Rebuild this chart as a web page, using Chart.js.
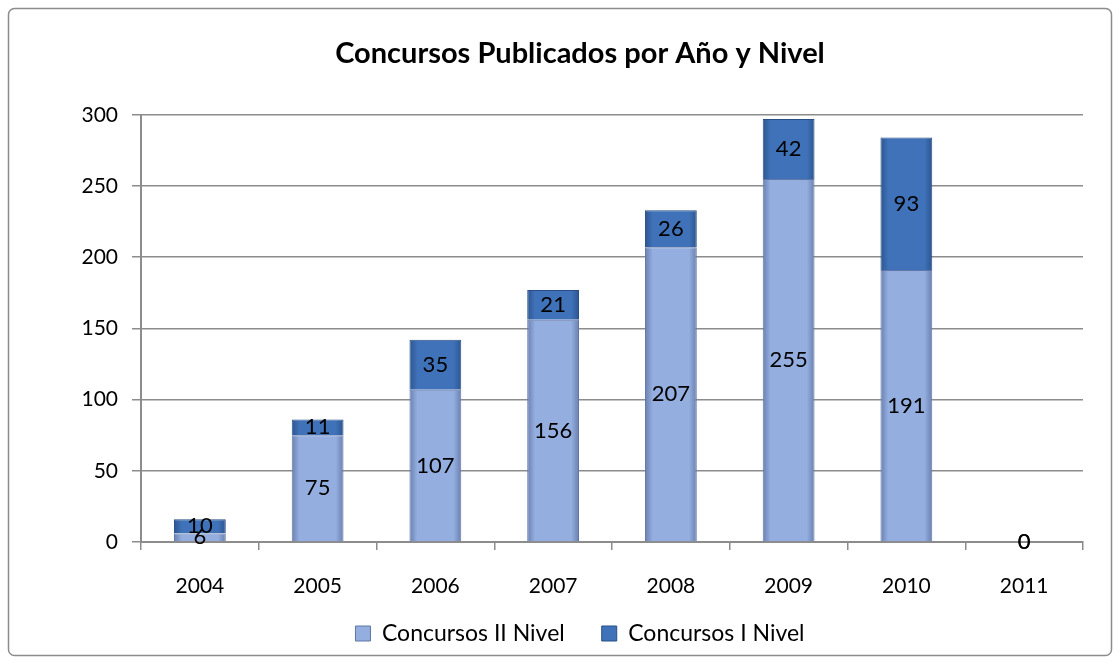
<!DOCTYPE html>
<html>
<head>
<meta charset="utf-8">
<script src="https://cdn.jsdelivr.net/npm/chart.js@4"></script>
<style>
  html, body { margin: 0; padding: 0; background: #fff; }
  #wrap { width: 1120px; height: 664px; position: relative; }
</style>
</head>
<body>
<div id="wrap"><canvas id="chart" width="1120" height="664"></canvas></div>
<script>
// Chart data
const years = ['2004', '2005', '2006', '2007', '2008', '2009', '2010', '2011'];
const nivelII = [6, 75, 107, 156, 207, 255, 191, 0];
const nivelI = [10, 11, 35, 21, 26, 42, 93, 0];
const yTicks = [0, 50, 100, 150, 200, 250, 300];

const fontFamily = 'Lato, "Open Sans", sans-serif';
const barPct = 0.44;

const colorsII = { edge: '#6a80b0', mid: '#93aedf', border: '#5f76a6' };
const colorsI = { edge: '#2c5590', mid: '#3f72b8', border: '#294e85' };

// Horizontal gradient for each bar, darker on the edges
function barGradient(ctx, c) {
  const chart = ctx.chart;
  const xs = chart.scales.x;
  if (!xs || ctx.dataIndex === undefined || !xs.width) return c.mid;
  const cx = xs.getPixelForValue(ctx.dataIndex);
  const half = (xs.width / years.length) * barPct / 2;
  const g = chart.ctx.createLinearGradient(cx - half, 0, cx + half, 0);
  g.addColorStop(0, c.edge);
  g.addColorStop(0.15, c.mid);
  g.addColorStop(0.85, c.mid);
  g.addColorStop(1, c.edge);
  return g;
}

// Value labels in the middle of each segment
const valueLabels = {
  id: 'valueLabels',
  afterDatasetsDraw(chart) {
    const ctx = chart.ctx;
    ctx.save();
    ctx.font = '22px ' + fontFamily;
    ctx.fillStyle = '#000';
    ctx.textAlign = 'center';
    ctx.textBaseline = 'middle';
    chart.data.datasets.forEach((ds, i) => {
      chart.getDatasetMeta(i).data.forEach((bar, j) => {
        const y = (bar.y + bar.base) / 2;
        ctx.fillText(String(ds.data[j]), bar.x, y);
      });
    });
    ctx.restore();
  }
};

// Outer frame of the chart
const frame = {
  id: 'frame',
  beforeDraw(chart) {
    const ctx = chart.ctx;
    ctx.save();
    ctx.strokeStyle = '#8c8c8c';
    ctx.lineWidth = 1.5;
    ctx.beginPath();
    ctx.roundRect(8.5, 8.5, 1103, 647, 6);
    ctx.stroke();
    ctx.restore();
  }
};

new Chart(document.getElementById('chart'), {
  type: 'bar',
  data: {
    labels: years,
    datasets: [
      {
        label: 'Concursos II Nivel',
        data: nivelII,
        backgroundColor: (c) => barGradient(c, colorsII),
        borderColor: colorsII.border,
        borderWidth: 1,
      },
      {
        label: 'Concursos I Nivel',
        data: nivelI,
        backgroundColor: (c) => barGradient(c, colorsI),
        borderColor: colorsI.border,
        borderWidth: 1,
      },
    ],
  },
  options: {
    responsive: false,
    animation: false,
    layout: { padding: { left: 77, right: 37, top: 16, bottom: 9 } },
    datasets: {
      bar: { categoryPercentage: 1, barPercentage: barPct },
    },
    scales: {
      x: {
        stacked: true,
        afterFit(scale) { scale.height = 66; },
        grid: {
          display: true,
          drawOnChartArea: false,
          drawTicks: true,
          tickLength: 8,
          color: '#8c8c8c',
          lineWidth: 1.5,
        },
        border: { color: '#8c8c8c', width: 2 },
        ticks: { color: '#000', font: { size: 21, family: fontFamily }, padding: 24 },
      },
      y: {
        stacked: true,
        min: 0,
        max: 300,
        afterBuildTicks(scale) {
          scale.ticks = yTicks.map((v) => ({ value: v }));
        },
        afterFit(scale) { scale.width = 64; },
        grid: { color: '#8c8c8c', lineWidth: 1.5, tickLength: 9 },
        border: { color: '#8c8c8c', width: 2 },
        ticks: { color: '#000', font: { size: 21, family: fontFamily }, padding: 14 },
      },
    },
    plugins: {
      title: {
        display: true,
        text: 'Concursos Publicados por Año y Nivel',
        color: '#000',
        font: { size: 29, weight: 'bold', family: fontFamily },
        padding: { top: 20, bottom: 44 },
      },
      legend: {
        position: 'bottom',
        labels: {
          color: '#000',
          font: { size: 23, family: fontFamily },
          boxWidth: 15,
          boxHeight: 15,
          padding: 14,
          generateLabels(chart) {
            // en spaces after the first entry widen the gap between items
            return [colorsII, colorsI].map((c, i) => ({
              text: chart.data.datasets[i].label + (i === 0 ? '\u2002\u2002' : ''),
              fillStyle: c.mid,
              strokeStyle: c.border,
              lineWidth: 1,
              datasetIndex: i,
            }));
          },
        },
      },
      tooltip: { enabled: false },
    },
  },
  plugins: [frame, valueLabels],
});
</script>
</body>
</html>
